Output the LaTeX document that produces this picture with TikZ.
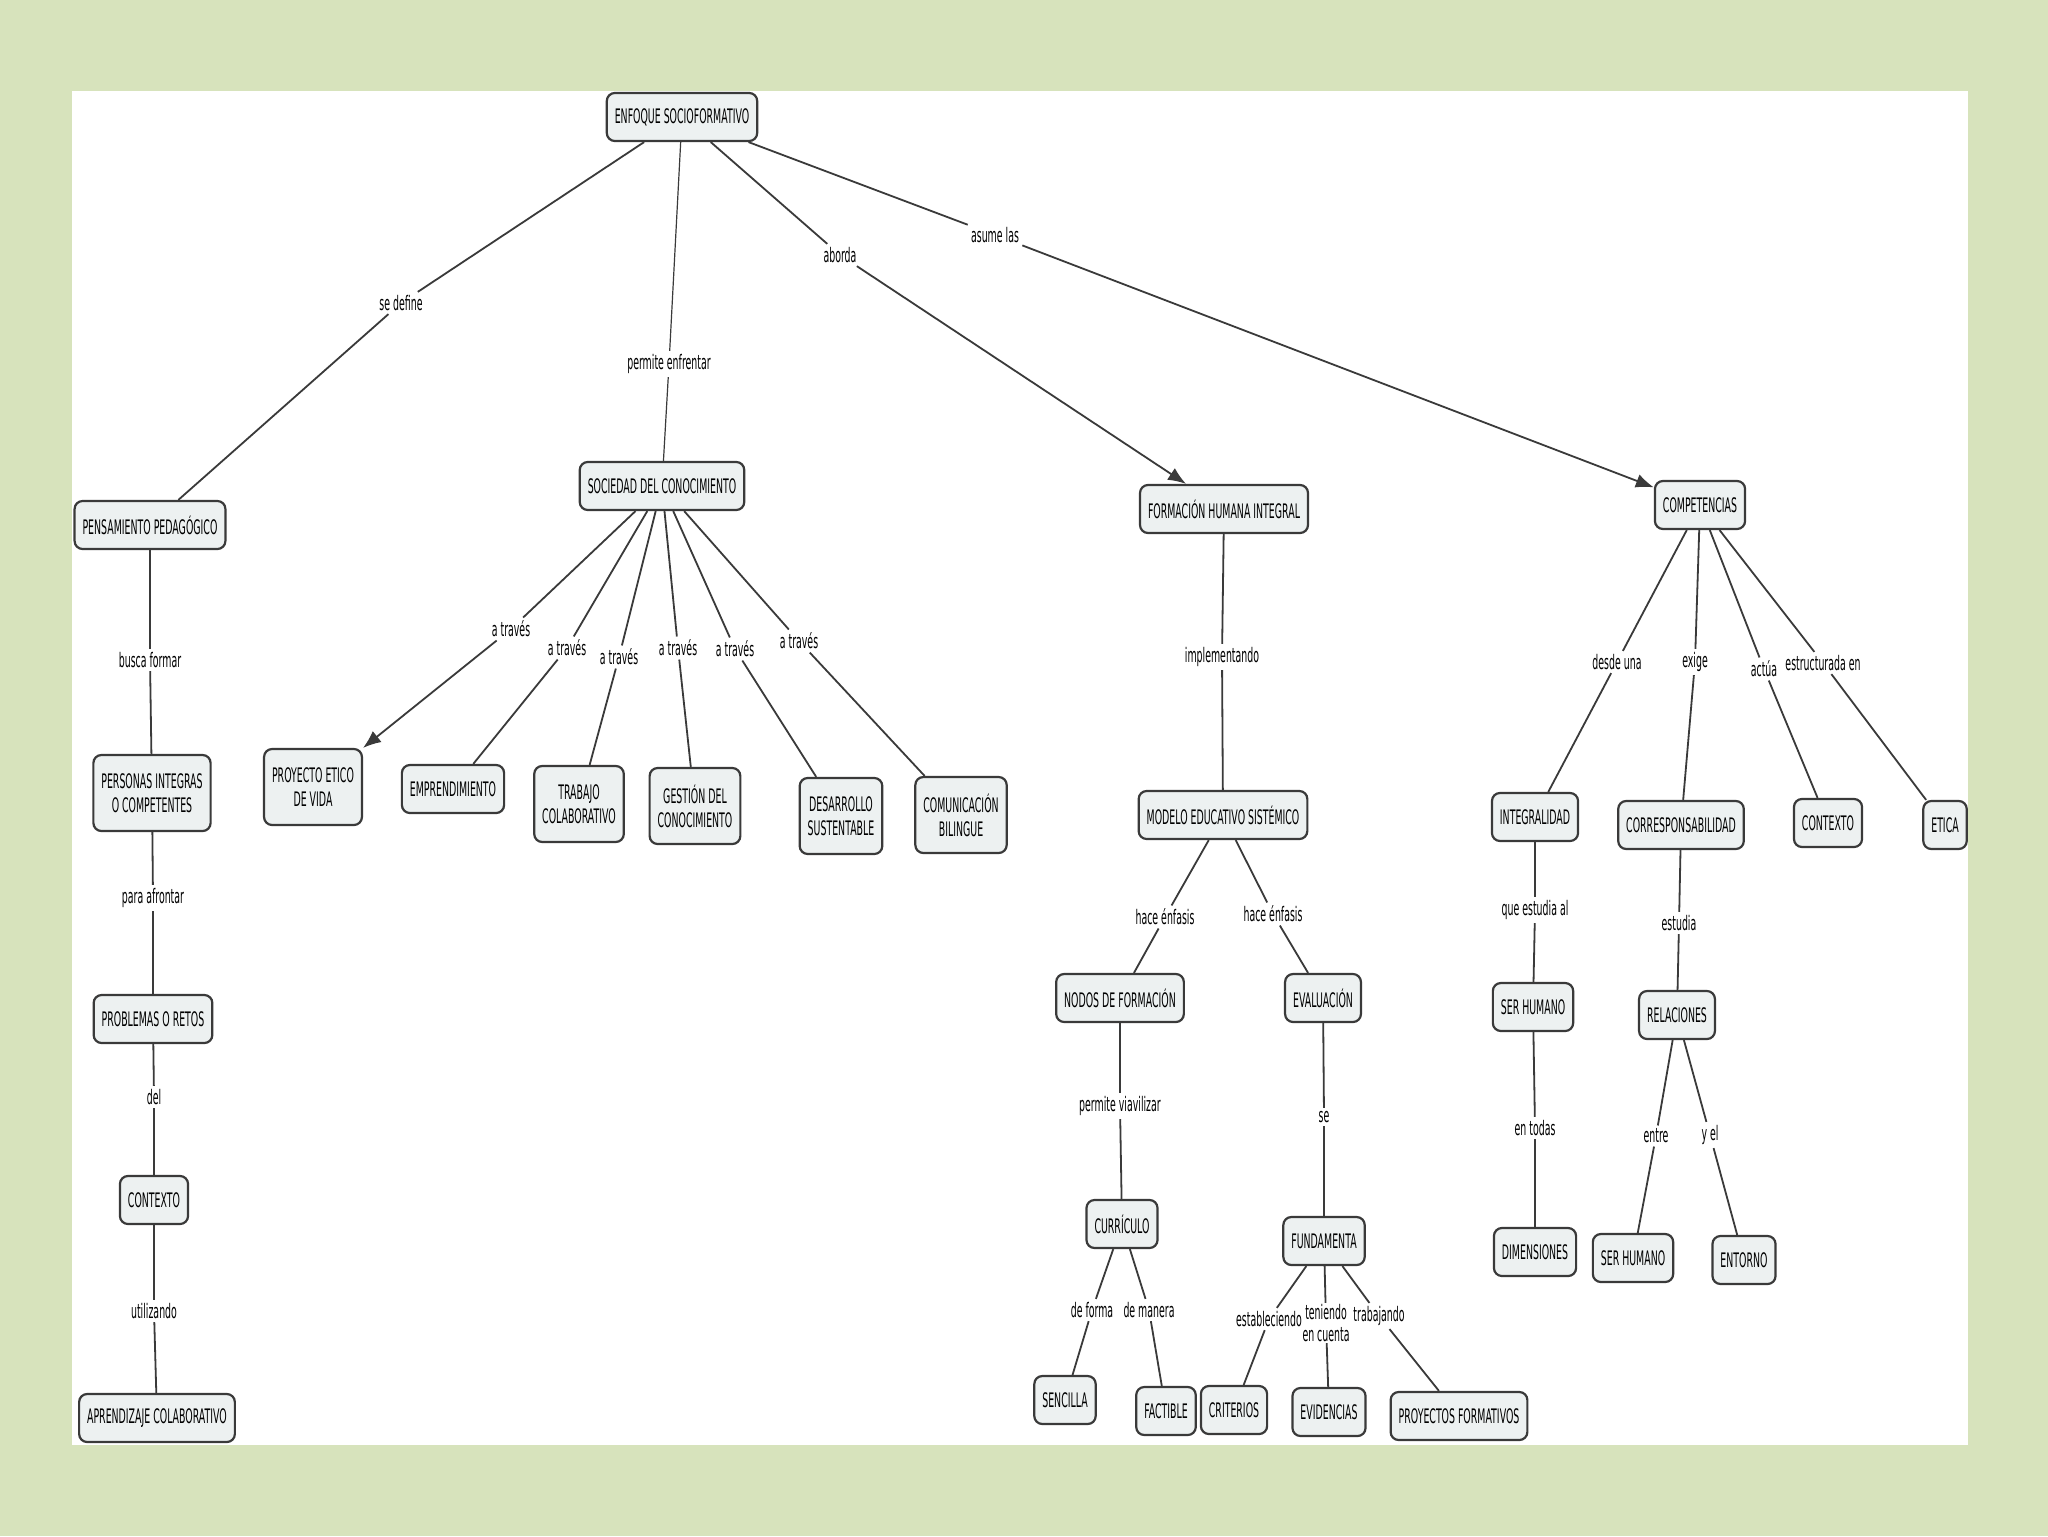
\documentclass[tikz,border=0pt]{standalone}
\usepackage{fontspec}
\setmainfont{DejaVu Sans}[FakeStretch=0.47]
\usepackage{tikz}
\usetikzlibrary{arrows.meta}

\definecolor{fondoverde}{HTML}{D7E3BC}
\definecolor{relleno}{HTML}{EDF1F1}
\definecolor{trazo}{HTML}{3A3A3A}

\tikzset{
    concepto/.style={draw=trazo, fill=relleno, rounded corners=4pt, line width=1.1pt,
        align=center, inner xsep=4pt, minimum height=24pt, font=\fontsize{10}{12}\selectfont},
    doble/.style={minimum height=38pt},
    enlace/.style={inner sep=1.5pt, align=center, font=\fontsize{10}{11}\selectfont},
    linea/.style={draw=trazo, line width=0.9pt}
}

\begin{document}
\begin{tikzpicture}[>={Latex[length=9pt,width=7pt]}, x=0.5pt, y=-0.5pt]

    % Fondo verde y hoja blanca
    \fill[fondoverde] (0,0) rectangle (2048,1536);
    \fill[white] (72,91) rectangle (1968,1445);

    % Concepto raíz
    \node[concepto] (enfoque) at (682,117) {ENFOQUE SOCIOFORMATIVO};

    % Primer nivel
    \node[concepto] (pensamiento) at (150,525) {PENSAMIENTO PEDAGÓGICO};
    \node[concepto] (sociedad) at (662,486) {SOCIEDAD DEL CONOCIMIENTO};
    \node[concepto] (formacion) at (1224,509) {FORMACIÓN HUMANA INTEGRAL};
    \node[concepto] (competencias) at (1700,505) {COMPETENCIAS};

    % Rama: pensamiento pedagógico
    \node[concepto, doble] (personas) at (152,793) {PERSONAS INTEGRAS\\O COMPETENTES};
    \node[concepto] (problemas) at (153,1019) {PROBLEMAS O RETOS};
    \node[concepto] (contexto) at (154,1200) {CONTEXTO};
    \node[concepto] (aprendizaje) at (157,1418) {APRENDIZAJE COLABORATIVO};

    % Rama: sociedad del conocimiento
    \node[concepto, doble] (proyecto) at (313,787) {PROYECTO ETICO\\DE VIDA};
    \node[concepto] (emprendimiento) at (453,789) {EMPRENDIMIENTO};
    \node[concepto, doble] (trabajo) at (579,804) {TRABAJO\\COLABORATIVO};
    \node[concepto, doble] (gestion) at (695,806) {GESTIÓN DEL\\CONOCIMIENTO};
    \node[concepto, doble] (desarrollo) at (841,816) {DESARROLLO\\SUSTENTABLE};
    \node[concepto, doble] (comunicacion) at (961,815) {COMUNICACIÓN\\BILINGUE};

    % Rama: formación humana integral
    \node[concepto] (modelo) at (1223,815) {MODELO EDUCATIVO SISTÉMICO};
    \node[concepto] (nodos) at (1120,998) {NODOS DE FORMACIÓN};
    \node[concepto] (evaluacion) at (1323,998) {EVALUACIÓN};
    \node[concepto] (curriculo) at (1122,1224) {CURRÍCULO};
    \node[concepto] (sencilla) at (1065,1400) {SENCILLA};
    \node[concepto] (factible) at (1166,1411) {FACTIBLE};
    \node[concepto] (fundamenta) at (1324,1241) {FUNDAMENTA};
    \node[concepto] (criterios) at (1234,1410) {CRITERIOS};
    \node[concepto] (evidencias) at (1329,1412) {EVIDENCIAS};
    \node[concepto] (proyectos) at (1459,1416) {PROYECTOS FORMATIVOS};

    % Rama: competencias
    \node[concepto] (integralidad) at (1535,817) {INTEGRALIDAD};
    \node[concepto] (corresponsabilidad) at (1681,825) {CORRESPONSABILIDAD};
    \node[concepto] (contextocomp) at (1828,823) {CONTEXTO};
    \node[concepto] (etica) at (1945,825) {ETICA};
    \node[concepto] (serhumano) at (1533,1007) {SER HUMANO};
    \node[concepto] (dimensiones) at (1535,1252) {DIMENSIONES};
    \node[concepto] (relaciones) at (1677,1015) {RELACIONES};
    \node[concepto] (serhumanodos) at (1633,1258) {SER HUMANO};
    \node[concepto] (entorno) at (1744,1260) {ENTORNO};

    % Palabras de enlace
    \node[enlace] (sedefine) at (401,303) {se define};
    \node[enlace] (enfrentar) at (669,364) {permite enfrentar};
    \node[enlace] (aborda) at (840,255) {aborda};
    \node[enlace] (asume) at (995,235) {asume las};
    \node[enlace] (busca) at (150,660) {busca formar};
    \node[enlace] (afrontar) at (153,898) {para afrontar};
    \node[enlace] (del) at (154,1097) {del};
    \node[enlace] (utilizando) at (154,1311) {utilizando};
    \node[enlace] (traves1) at (511,629) {a través};
    \node[enlace] (traves2) at (567,648) {a través};
    \node[enlace] (traves3) at (619,657) {a través};
    \node[enlace] (traves4) at (678,648) {a través};
    \node[enlace] (traves5) at (735,649) {a través};
    \node[enlace] (traves6) at (799,641) {a través};
    \node[enlace] (implementando) at (1222,657) {implementando};
    \node[enlace] (enfasis1) at (1165,917) {hace énfasis};
    \node[enlace] (enfasis2) at (1273,914) {hace énfasis};
    \node[enlace] (viavilizar) at (1120,1106) {permite viavilizar};
    \node[enlace] (deforma) at (1092,1310) {de forma};
    \node[enlace] (demanera) at (1149,1310) {de manera};
    \node[enlace] (se) at (1324,1117) {se};
    \node[enlace] (estableciendo) at (1269,1319) {estableciendo};
    \node[enlace, inner sep=0.5pt] (teniendo) at (1326,1323) {teniendo\\en cuenta};
    \node[enlace] (trabajando) at (1379,1316) {trabajando};
    \node[enlace] (desde) at (1617,662) {desde una};
    \node[enlace] (exige) at (1695,662) {exige};
    \node[enlace] (actua) at (1764,669) {actúa};
    \node[enlace] (estructurada) at (1823,663) {estructurada en};
    \node[enlace] (queestudia) at (1535,910) {que estudia al};
    \node[enlace] (entodas) at (1535,1128) {en todas};
    \node[enlace] (estudia) at (1679,923) {estudia};
    \node[enlace] (entre) at (1656,1136) {entre};
    \node[enlace] (yel) at (1710,1135) {y el};

    % Conexiones desde la raíz
    \draw[linea] (enfoque) -- (sedefine) -- (pensamiento);
    \draw[linea, line width=0.6pt] (enfoque) -- (enfrentar) -- (sociedad);
    \draw[linea, ->] (enfoque) -- (aborda) -- (formacion);
    \draw[linea, ->] (enfoque) -- (asume) -- (competencias);

    % Conexiones: pensamiento pedagógico
    \draw[linea] (pensamiento) -- (busca) -- (personas);
    \draw[linea] (personas) -- (afrontar) -- (problemas);
    \draw[linea] (problemas) -- (del) -- (contexto);
    \draw[linea] (contexto) -- (utilizando) -- (aprendizaje);

    % Conexiones: sociedad del conocimiento
    \draw[linea, ->] (sociedad) -- (traves1) -- (proyecto.north east);
    \draw[linea] (sociedad) -- (traves2) -- (emprendimiento);
    \draw[linea] (sociedad) -- (traves3) -- (trabajo);
    \draw[linea] (sociedad) -- (traves4) -- (gestion);
    \draw[linea] (sociedad) -- (traves5) -- (desarrollo);
    \draw[linea] (sociedad) -- (traves6) -- (comunicacion);

    % Conexiones: formación humana integral
    \draw[linea] (formacion) -- (implementando) -- (modelo);
    \draw[linea] (modelo) -- (enfasis1) -- (nodos);
    \draw[linea] (modelo) -- (enfasis2) -- (evaluacion);
    \draw[linea] (nodos) -- (viavilizar) -- (curriculo);
    \draw[linea] (curriculo) -- (deforma) -- (sencilla);
    \draw[linea] (curriculo) -- (demanera) -- (factible);
    \draw[linea] (evaluacion) -- (se) -- (fundamenta);
    \draw[linea] (fundamenta) -- (estableciendo) -- (criterios);
    \draw[linea] (fundamenta) -- (teniendo) -- (evidencias);
    \draw[linea] (fundamenta) -- (trabajando) -- (proyectos);

    % Conexiones: competencias
    \draw[linea] (competencias) -- (desde) -- (integralidad);
    \draw[linea] (competencias) -- (exige) -- (corresponsabilidad);
    \draw[linea] (competencias) -- (actua) -- (contextocomp);
    \draw[linea] (competencias) -- (estructurada) -- (etica);
    \draw[linea] (integralidad) -- (queestudia) -- (serhumano);
    \draw[linea] (serhumano) -- (entodas) -- (dimensiones);
    \draw[linea] (corresponsabilidad) -- (estudia) -- (relaciones);
    \draw[linea] (relaciones) -- (entre) -- (serhumanodos);
    \draw[linea] (relaciones) -- (yel) -- (entorno);

\end{tikzpicture}
\end{document}
